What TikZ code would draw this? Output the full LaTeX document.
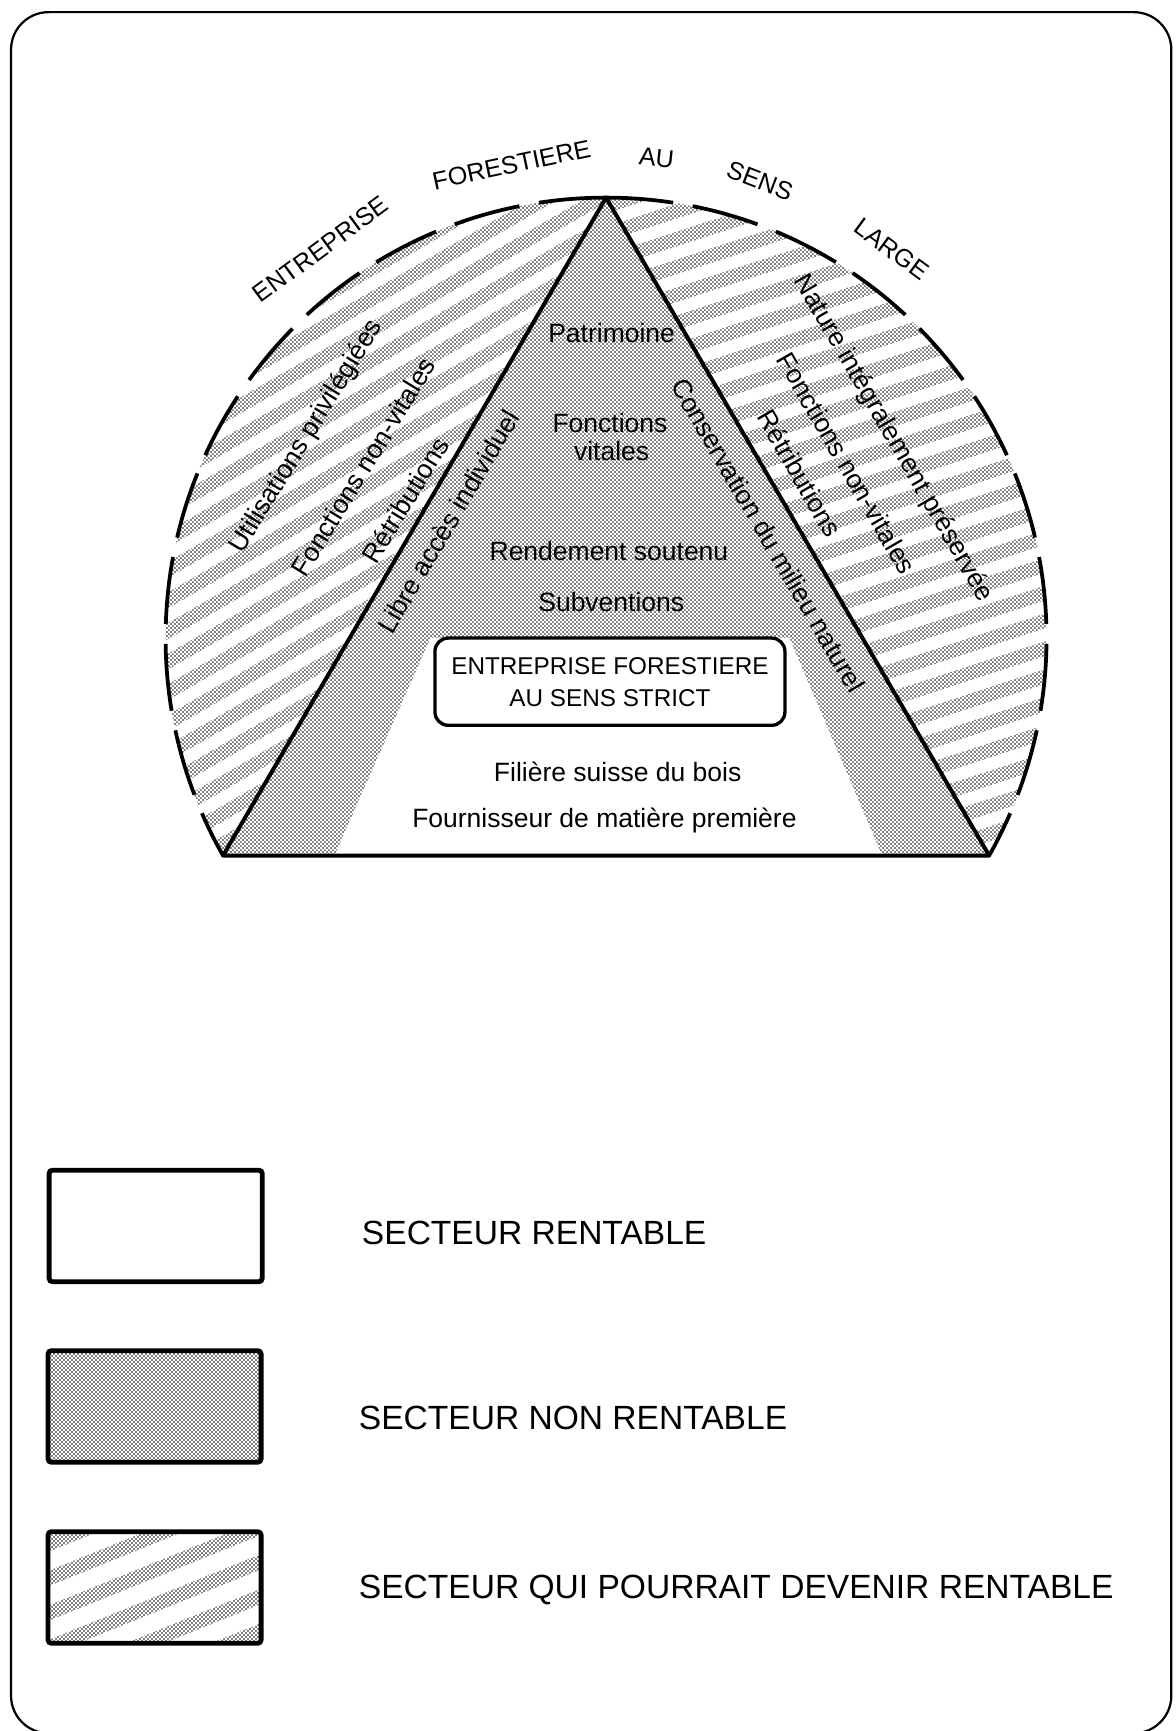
\documentclass[tikz,border=0pt]{standalone}
\usepackage{fontspec}
\setmainfont{Liberation Sans}
\usetikzlibrary{patterns}
\pgfdeclarepatternformonly{finedots}{\pgfpointorigin}{\pgfqpoint{1.8pt}{1.8pt}}{\pgfqpoint{1.8pt}{1.8pt}}{%
  \pgfpathcircle{\pgfqpoint{0.45pt}{0.45pt}}{0.37pt}%
  \pgfpathcircle{\pgfqpoint{1.35pt}{1.35pt}}{0.37pt}%
  \pgfusepath{fill}}
\tikzset{
  dotfill/.style={pattern=finedots, pattern color=black},
  stripe/.style={white, line width=5.6pt},
  lstripe/.style={white, line width=8pt},
  heavy/.style={line width=1.8pt, line join=round},
  arcdash/.style={line width=1.7pt, dash pattern=on 30.5pt off 9pt},
  inner/.style={inner sep=0pt, font=\fontsize{12}{14}\selectfont},
  arclabel/.style={inner sep=0pt, font=\fontsize{11.4}{13}\selectfont},
  legendtext/.style={inner sep=0pt, anchor=west, font=\fontsize{15.2}{18}\selectfont},
  legendbox/.style={draw, line width=2.2pt, rounded corners=1.5pt, minimum width=96.5pt, minimum height=50.5pt, inner sep=0pt},
  strictbox/.style={draw, fill=white, line width=1.5pt, rounded corners=6pt, minimum width=158.5pt, minimum height=39.5pt, align=center, inner sep=0pt, font=\fontsize{11}{14.5}\selectfont},
  framebox/.style={line width=1pt, rounded corners=17pt},
}
\begin{document}
\begin{tikzpicture}[x=0.5pt, y=-0.5pt]
\useasboundingbox (0,0) rectangle (1065,1568);
% ---- dome stipple ----
\coordinate (C) at (549,578);
\coordinate (apex) at (549,179);
\coordinate (bl) at (202,775);
\coordinate (br) at (896,775);
\begin{scope}
  \clip (0,0) rectangle (1065,775);
  \fill[dotfill] (C) circle[radius=399];
\end{scope}
% ---- stripes, left part ----
\begin{scope}
  \clip (apex) -- (bl) -- (0,775) -- (0,0) -- (549,0) -- cycle;
  \begin{scope}[rotate around={30:(549,578)}]
    \foreach \i in {-30,...,30}
      \draw[stripe] (-300,{578+24*\i}) -- (1400,{578+24*\i});
  \end{scope}
\end{scope}
% ---- stripes, right part ----
\begin{scope}
  \clip (apex) -- (br) -- (1065,775) -- (1065,0) -- (549,0) -- cycle;
  \begin{scope}[rotate around={18:(549,578)}]
    \foreach \i in {-30,...,30}
      \draw[stripe] (-300,{578+24*\i}) -- (1400,{578+24*\i});
  \end{scope}
\end{scope}
% ---- white (profitable) part of the triangle ----
\fill[white] (303,775) -- (799,775) -- (715,578) -- (390,578) -- cycle;
% ---- triangle and dashed arc ----
\draw[heavy] (apex) -- (bl) -- (br) -- cycle;
\draw[arcdash] (apex) arc[start angle=270, end angle=150.4, radius=399];
\draw[arcdash] (apex) arc[start angle=-90, end angle=29.6, radius=399];
% ---- labels on the arc ----
\node[arclabel, rotate=36.3] (t1) at (290.3,225.8) {ENTREPRISE};
\node[arclabel, rotate=12] (t2) at (463.4,149.3) {FORESTIERE};
\node[arclabel, rotate=-6] (t3) at (594.7,143.4) {AU};
\node[arclabel, rotate=-21] (t4) at (688.4,163.7) {SENS};
\node[arclabel, rotate=-36.3] (t5) at (807.7,225.8) {LARGE};
% ---- left hatched labels ----
\node[inner, rotate=58.5] (utilL) at (278,395.5) {Utilisations privilégiées};
\node[inner, rotate=58.5] (fnvL) at (329,422.7) {Fonctions non-vitales};
\node[inner, rotate=58.5] (retL) at (367,453) {Rétributions};
\node[inner, rotate=59.5] (libre) at (406,472.5) {Libre accès individuel};
% ---- right hatched labels ----
\node[inner, rotate=-59.8] (cons) at (696,485) {Conservation du milieu naturel};
\node[inner, rotate=-60] (retR) at (724.6,428.7) {Rétributions};
\node[inner, rotate=-60] (fnvR) at (767,419.7) {Fonctions non-vitales};
\node[inner, rotate=-60] (nat) at (809,397) {Nature intégralement préservée};
% ---- triangle labels ----
\node[inner] (patr) at (554,301.6) {Patrimoine};
\node[inner] (fonc) at (552.5,383.4) {Fonctions};
\node[inner] (vita) at (554,409) {vitales};
\node[inner] (rend) at (551.6,499) {Rendement soutenu};
\node[inner] (subv) at (553.7,545) {Subventions};
\node[strictbox] (strict) at (552.5,617.5) {ENTREPRISE FORESTIERE\\AU SENS STRICT};
\node[inner] (fili) at (559.5,699) {Filière suisse du bois};
\node[inner] (four) at (547.5,743) {Fournisseur de matière première};
% ---- legend ----
\node[legendbox] (l1) at (141,1110.5) {};
\node[legendtext] (l1t) at (327.5,1116.7) {SECTEUR RENTABLE};
\node[legendbox, dotfill] (l2) at (140,1274) {};
\node[legendtext] (l2t) at (324.7,1284.6) {SECTEUR NON RENTABLE};
\fill[dotfill] (44,1388) rectangle (237,1488);
\begin{scope}
  \clip (44,1388) rectangle (237,1488);
  \begin{scope}[rotate around={22:(140,1438)}]
    \foreach \i in {-8,...,8}
      \draw[lstripe] (-100,{1438+29*\i}) -- (400,{1438+29*\i});
  \end{scope}
\end{scope}
\node[legendbox] (l3) at (140,1438) {};
\node[legendtext] (l3t) at (324.7,1440) {SECTEUR QUI POURRAIT DEVENIR RENTABLE};
% ---- outer frame ----
\draw[framebox] (10,11) rectangle (1061,1570);
\end{tikzpicture}
\end{document}
